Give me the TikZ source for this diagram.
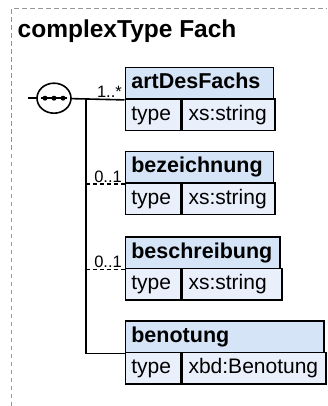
\documentclass[tikz,border=0pt]{standalone}
\usepackage{fontspec}
\setmainfont{Liberation Sans}
\usetikzlibrary{shapes.geometric}
\definecolor{hdrfill}{RGB}{214,228,247}
\definecolor{typfill}{RGB}{233,240,251}
\definecolor{framegray}{RGB}{150,150,150}
\tikzset{
  cell/.style={draw=black, line width=1.7pt, minimum height=31.5pt, inner xsep=6pt, inner ysep=0pt,
    text height=15pt, text depth=4.5pt, align=left, anchor=north west},
  hdr/.style={cell, fill=hdrfill, font=\bfseries\fontsize{21.5}{25}\selectfont},
  typ/.style={cell, fill=typfill, font=\fontsize{21}{25}\selectfont},
  mult/.style={font=\fontsize{16.5}{19}\selectfont, inner sep=0pt, anchor=base east},
  conn/.style={line width=1.6pt},
  opt/.style={conn, dash pattern=on 4pt off 3pt},
}
\begin{document}
\begin{tikzpicture}[x=1pt,y=-1pt]
\useasboundingbox (0,0) rectangle (327,406);
\draw[framegray, line width=1pt, dash pattern=on 4.5pt off 3.5pt] (11,406) -- (11,9) -- (327,9);
\node[anchor=base west, inner sep=0pt, font=\bfseries\fontsize{24.5}{29}\selectfont] (title) at (17.5,37.5) {complexType Fach};

% box 1
\node[typ, text width=43.5pt] (t1) at (124.5,98.2) {type};
\node[typ, text width=80.7pt] (v1) at (t1.north east) {xs:string};
\node[hdr, text width=136.2pt] (h1) at (124.5,66.7) {artDesFachs};
% box 2
\node[typ, text width=43.5pt] (t2) at (124.5,182.2) {type};
\node[typ, text width=80.7pt] (v2) at (t2.north east) {xs:string};
\node[hdr, text width=136.2pt] (h2) at (124.5,150.7) {bezeichnung};
% box 3
\node[typ, text width=43.5pt] (t3) at (124.5,267.7) {type};
\node[typ, text width=87.3pt] (v3) at (t3.north east) {xs:string};
\node[hdr, text width=142.8pt] (h3) at (124.5,236.2) {beschreibung};
% box 4
\node[typ, text width=43.5pt] (t4) at (124.5,351.7) {type};
\node[typ, text width=131.3pt] (v4) at (t4.north east) {xbd:Benotung};
\node[hdr, text width=186.8pt] (h4) at (124.5,320.2) {benotung};

% sequence compositor
\coordinate (lstub) at (27.5,98.2);
\coordinate (jn) at (86,98.2);
\draw[conn] (lstub) -- (54,98.2);
\draw[conn] (54,98.2) -- (h1.south west);
\draw[conn] (jn) |- (h4.south west);
\draw[opt] (h2.south west -| jn) -- (h2.south west);
\draw[opt] (h3.south west -| jn) -- (h3.south west);
\node[ellipse, draw, fill=white, line width=1.6pt, minimum width=34pt, minimum height=30pt, inner sep=0pt] (seq) at (54,98.2) {};
\draw[line width=1.6pt] ([xshift=-13pt]seq.center) -- ([xshift=13pt]seq.center);
\fill ([xshift=-9pt]seq.center) circle (2.5pt);
\fill (seq.center) circle (2.5pt);
\fill ([xshift=9pt]seq.center) circle (2.5pt);

% multiplicities
\node[mult] (m1) at ([xshift=-2.5pt,yshift=2pt]h1.south west) {1..*};
\node[mult] (m2) at ([xshift=-2.5pt,yshift=1.5pt]h2.south west) {0..1};
\node[mult] (m3) at ([xshift=-2.5pt,yshift=1.5pt]h3.south west) {0..1};
\end{tikzpicture}
\end{document}
